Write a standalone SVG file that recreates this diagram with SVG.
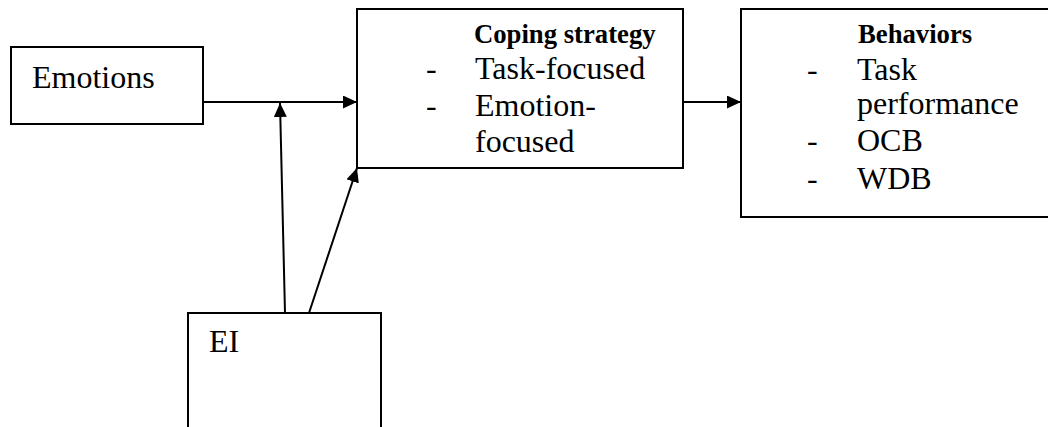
<svg xmlns="http://www.w3.org/2000/svg" width="1048" height="427" viewBox="0 0 1048 427">
<style>
.box{fill:#fff;stroke:#000;stroke-width:2}
.t{font-family:"Liberation Serif","Times New Roman",serif;font-size:32px;fill:#000}
.b{font-family:"Liberation Serif","Times New Roman",serif;font-size:26.7px;font-weight:bold;fill:#000}
.c{stroke:#000;stroke-width:2;fill:none}
</style>
<defs>
<marker id="ah" viewBox="0 0 14 13" refX="14" refY="6.5" markerWidth="14" markerHeight="13" markerUnits="userSpaceOnUse" orient="auto">
<path d="M0,0 L14,6.5 L0,13 z" fill="#000"/>
</marker>
</defs>
<g id="emotions">
<rect class="box" x="11" y="47" width="192" height="77"/>
<text class="t" x="32" y="88">Emotions</text>
</g>
<g id="coping">
<rect class="box" x="357" y="9" width="326" height="159"/>
<text class="b" x="474" y="43">Coping strategy</text>
<text class="t" x="426" y="79">-</text>
<text class="t" x="475" y="79">Task-focused</text>
<text class="t" x="426" y="116">-</text>
<text class="t" x="475" y="116">Emotion-</text>
<text class="t" x="475" y="152">focused</text>
</g>
<g id="behaviors">
<rect class="box" x="741" y="9" width="320" height="208"/>
<text class="b" x="858" y="43">Behaviors</text>
<text class="t" x="807" y="80">-</text>
<text class="t" x="857" y="80">Task</text>
<text class="t" x="857" y="114">performance</text>
<text class="t" x="807" y="151">-</text>
<text class="t" x="857" y="151">OCB</text>
<text class="t" x="807" y="189">-</text>
<text class="t" x="857" y="189">WDB</text>
</g>
<g id="ei">
<rect class="box" x="188" y="313" width="193" height="130"/>
<text class="t" x="209" y="352">EI</text>
</g>
<g id="connectors">
<line class="c" x1="203" y1="102" x2="357" y2="102" marker-end="url(#ah)"/>
<line class="c" x1="285" y1="313" x2="280" y2="103" marker-end="url(#ah)"/>
<line class="c" x1="309" y1="313" x2="357" y2="168" marker-end="url(#ah)"/>
<line class="c" x1="683" y1="102" x2="741" y2="102" marker-end="url(#ah)"/>
</g>
</svg>
